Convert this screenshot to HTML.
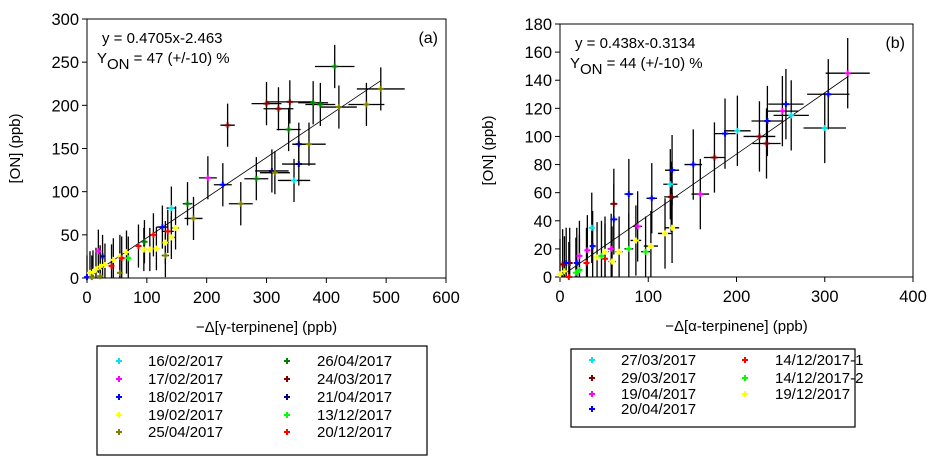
<!DOCTYPE html>
<html><head><meta charset="utf-8">
<style>
body{margin:0;background:#fff;width:940px;height:470px;overflow:hidden;font-family:"Liberation Sans",Arial,sans-serif}
svg text{font-family:"Liberation Sans",Arial,sans-serif}
</style></head>
<body>
<svg id="fig" width="940" height="470" viewBox="0 0 940 470" xmlns="http://www.w3.org/2000/svg">
<g id="chartA"></g>
<g id="chartB"></g>
</svg>
<script>
// ---- Chart (a) data ----
const namesA = ["16/02/2017","17/02/2017","18/02/2017","19/02/2017","25/04/2017","26/04/2017","24/03/2017","21/04/2017","13/12/2017","20/12/2017"];
const colorsA = ["#00e5ee","#ff00ff","#0000ff","#ffff00","#808000","#008000","#800000","#000080","#00ff00","#ff0000"];
const xA  = [414,491,467,421,378,390,339,320,300,235,337,354,371,354,346,309,314,283,202,227,257,168,178,141,126,135,148,141,131,131,111,96,86,95,105,116,66,55,44,69,58,41,55,19,26,5,10,15,22,30,0,8,22];
const yA  = [245,219,201,198,203,201,204,196,202,177,172,155,155,132,113,124,122,115,116,108,86,86,69,81,59,54,58,47,41,26,50,42,37,33,33,34,30,25,21,23,23,14,6,31,25,6,7,10,13,15,1,1,2];
const sA  = [5,4,4,4,5,5,6,6,6,6,5,7,4,7,0,7,4,5,1,2,4,5,4,0,2,9,3,3,3,4,9,5,9,3,3,3,3,3,3,8,9,9,4,1,7,3,3,3,3,3,2,4,4];
const xeA = [33,40,30,30,25,25,38,25,25,12,20,10,28,28,27,28,25,20,15,15,20,8,15,8,10,10,6,6,6,6,5,5,5,5,5,5,4,4,4,4,4,4,4,3,3,3,3,3,3,3,2,2,2];
const yeA = [25,25,25,25,25,25,25,25,25,25,25,25,25,25,25,25,25,25,25,25,25,25,25,25,25,25,25,25,25,25,25,25,25,25,25,25,25,25,25,25,25,25,25,25,25,25,25,25,25,25,25,25,25];
const xTicksA = [0,100,200,300,400,500,600];
const yTicksA = [0,50,100,150,200,250,300];
const fitA = [0.4705,-2.463,0,490];

// ---- Chart (b) data ----
const namesB = ["27/03/2017","29/03/2017","19/04/2017","20/04/2017","14/12/2017-1","14/12/2017-2","19/12/2017"];
const colorsB = ["#00e5ee","#800000","#ff00ff","#0000ff","#ff0000","#00ff00","#ffff00"];
const xB  = [326,304,300,262,252,256,235,226,234,201,187,175,151,159,127,125,126,127,119,103,86,104,78,88,78,97,61,61,58,59,67,51,42,51,30,47,36,37,31,22,3,11,7,19,0,5,18,22,10];
const yB  = [145,130,106,115,118,123,111,100,95,104,102,85,80,59,76,66,57,35,31,22,26,56,59,36,20,18,52,41,20,11,18,18,14,13,10,15,35,22,19,15,9,10,10,10,2,4,3,5,0];
const sB  = [2,3,0,0,2,3,3,1,1,0,3,1,3,2,3,0,1,6,6,6,6,3,3,2,5,5,1,3,2,6,6,6,6,4,4,5,0,3,2,2,1,1,3,3,6,6,5,5,4];
const xeB = [25,24,24,20,18,20,18,18,16,15,12,12,10,10,8,8,8,8,8,8,6,6,5,5,5,5,4,4,4,4,4,4,3,3,3,3,3,3,3,3,2,2,2,2,2,2,2,2,2];
const yeB = [25,25,25,25,25,25,25,25,25,25,25,25,25,25,25,25,25,25,25,25,25,25,25,25,25,25,25,25,25,25,25,25,25,25,25,25,25,25,25,25,25,25,25,25,25,25,25,25,25];
const xTicksB = [0,100,200,300,400];
const yTicksB = [0,20,40,60,80,100,120,140,160,180];
const fitB = [0.438,-0.3134,0,327];

const NS = "http://www.w3.org/2000/svg";
function mk(parent, tag, attrs, txt){
  const e = document.createElementNS(NS, tag);
  for (const k in attrs) e.setAttribute(k, attrs[k]);
  if (txt !== undefined) e.textContent = txt;
  parent.appendChild(e);
  return e;
}

function drawChart(g, box, xMax, yMax, xTicks, yTicks, xs, ys, ss, xes, yes, colors, fit, xTitle, tag, eq, yon, legend){
  const sx = v => box.x0 + (v / xMax) * (box.x1 - box.x0);
  const sy = v => box.y1 - (Math.max(0, v) / yMax) * (box.y1 - box.y0);
  const frame = mk(g, "rect", {x: box.x0, y: box.y0, width: box.x1 - box.x0, height: box.y1 - box.y0, fill: "none", stroke: "#000", "stroke-width": 1});
  
  
  xTicks.forEach(t => {
    const l = mk(g, "line", {x1: sx(t), x2: sx(t), y1: box.y1, y2: box.y1 + 5, stroke: "#000"});
    
    
    const tx = mk(g, "text", {x: sx(t), y: box.y1 + 25, "font-size": 16.5, "text-anchor": "middle"}, t);
    
    
  });
  yTicks.forEach(t => {
    const l = mk(g, "line", {x1: box.x0 - 5, x2: box.x0, y1: sy(t), y2: sy(t), stroke: "#000"});
    
    
    const tx = mk(g, "text", {x: box.x0 - 8, y: sy(t) + 6, "font-size": 16.5, "text-anchor": "end"}, t);
    
    
  });
  const xt = mk(g, "text", {x: (box.x0 + box.x1) / 2, y: box.y1 + 54, "font-size": 15, "text-anchor": "middle"}, xTitle);
  
  
  const yt = mk(g, "text", {x: 0, y: 0, "font-size": 15, "text-anchor": "middle", transform: `translate(${box.x0 - 67},${(box.y0 + box.y1) / 2}) rotate(-90)`}, "[ON] (ppb)");
  
  
  for (let i = 0; i < xs.length; i++){
    const eb = mk(g, "path", {d: `M${sx(Math.max(0, xs[i] - xes[i]))},${sy(ys[i])}H${sx(xs[i] + xes[i])}M${sx(xs[i])},${sy(ys[i] - yes[i])}V${sy(ys[i] + yes[i])}`, stroke: "#000", "stroke-width": 1.3, fill: "none"});
    
    
  }
  const fl = mk(g, "line", {x1: sx(fit[2]), y1: sy(fit[0] * fit[2] + fit[1]), x2: sx(fit[3]), y2: sy(fit[0] * fit[3] + fit[1]), stroke: "#000", "stroke-width": 0.8});
  
  
  for (let i = 0; i < xs.length; i++){
    const c = colors[ss[i]];
    const px = sx(xs[i]), py = sy(ys[i]);
    const pt = mk(g, "path", {d: `M${px - 3},${py}H${px + 3}M${px},${py - 3}V${py + 3}`, stroke: c, "stroke-width": 2});
    
    
  }
  const e1 = mk(g, "text", {x: box.x0 + 15, y: box.y0 + 24, "font-size": 15}, eq);
  
  
  const e2 = mk(g, "text", {x: box.x0 + 10, y: box.y0 + 44, "font-size": 15});
  
  
  mk(e2, "tspan", {}, "Y");
  mk(e2, "tspan", {dy: 6}, "ON");
  mk(e2, "tspan", {dy: -6}, " = " + yon);
  const tg = mk(g, "text", {x: box.x1 - 8, y: box.y0 + 24, "font-size": 16, "text-anchor": "end"}, tag);
  
  
  const lg = mk(g, "g", {});
  
  
  const lb = mk(lg, "rect", {x: legend.x0, y: legend.y0, width: legend.w, height: legend.h, fill: "#fff", stroke: "#000", "stroke-width": 1.2});
  
  
  legend.names.forEach((n, i) => {
    const col = i < legend.perCol ? 0 : 1;
    const row = col ? i - legend.perCol : i;
    const mx = legend.mx[col], ty = legend.rows[row];
    const ent = mk(lg, "g", {});
    
    
    mk(ent, "path", {d: `M${mx - 3},${ty - 5}H${mx + 3}M${mx},${ty - 8}V${ty - 2}`, stroke: legend.colors[i], "stroke-width": 2});
    mk(ent, "text", {x: legend.tx[col], y: ty, "font-size": 15}, n);
  });
}

drawChart(document.getElementById("chartA"), {x0: 87, x1: 446, y0: 19, y1: 278}, 600, 300, xTicksA, yTicksA,
  xA, yA, sA, xeA, yeA, colorsA, fitA, "\u2212\u0394[\u03b3-terpinene] (ppb)", "(a)", "y = 0.4705x-2.463", "47 (+/-10) %",
  {x0: 97, y0: 346, w: 330, h: 109, names: namesA, colors: colorsA, perCol: 5, mx: [119, 287], tx: [148, 317], rows: [366, 384, 402, 420, 437]});

drawChart(document.getElementById("chartB"), {x0: 560, x1: 913, y0: 24, y1: 277}, 400, 180, xTicksB, yTicksB,
  xB, yB, sB, xeB, yeB, colorsB, fitB, "\u2212\u0394[\u03b1-terpinene] (ppb)", "(b)", "y = 0.438x-0.3134", "44 (+/-10) %",
  {x0: 571, y0: 349, w: 284, h: 78, names: namesB, colors: colorsB, perCol: 4, mx: [592, 745], tx: [621, 775], rows: [365, 383, 399, 414]});
</script>
</body></html>
